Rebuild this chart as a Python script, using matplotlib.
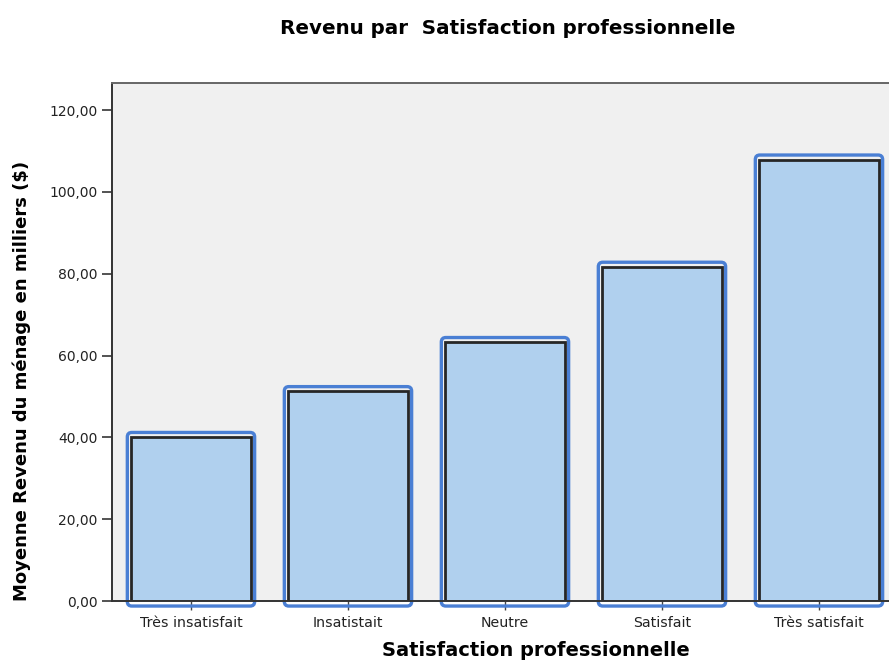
import matplotlib
matplotlib.use("Agg")
import matplotlib.pyplot as plt
from matplotlib.patches import FancyBboxPatch
from matplotlib.ticker import FuncFormatter

categories = ["Très insatisfait", "Insatistait", "Neutre", "Satisfait", "Très satisfait"]
mean_income = [40.1, 51.3, 63.3, 81.7, 107.9]
y_ticks = [0, 20, 40, 60, 80, 100, 120]

BG = "#f0f0f0"
FILL = "#b0d0ee"
RIM = "#4a7fd4"
W = 889
H = 662

fig = plt.figure(figsize=(W / 100, H / 100), dpi=100)
ax = fig.add_axes([0.126, 0.0921, 0.874, 0.7825])
ax.set_facecolor(BG)

x = list(range(len(categories)))
ax.set_xlim(-0.503, 4.446)
ax.set_ylim(0, 126.6)

# inner bars with a dark frame
ax.bar(x, mean_income, width=0.76, color=FILL, edgecolor="#262626", linewidth=2.0, zorder=3)

# rounded blue outline around every bar, sized in pixels
fig.canvas.draw()
px_x = ax.transData.transform((1, 0))[0] - ax.transData.transform((0, 0))[0]
px_y = ax.transData.transform((0, 1))[1] - ax.transData.transform((0, 0))[1]
pad_x = 4.0 / px_x
pad_top = 4.5 / px_y
pad_bot = 5.0 / px_y
radius = 4.5 / px_x
aspect = (1.0 / px_y) / (1.0 / px_x)
for xi, v in zip(x, mean_income):
    half = 0.76 / 2 + pad_x
    box = FancyBboxPatch((xi - half, -pad_bot), 2 * half, v + pad_top + pad_bot,
                         boxstyle=f"round,pad=0,rounding_size={radius}",
                         mutation_aspect=aspect, facecolor="none",
                         edgecolor=RIM, linewidth=2.4, zorder=2, clip_on=False)
    ax.add_patch(box)

ax.set_xticks(x)
ax.set_xticklabels(categories, fontfamily="DejaVu Sans", fontsize=10.2, color="#222222")
ax.set_yticks(y_ticks)
ax.yaxis.set_major_formatter(FuncFormatter(lambda v, p: f"{v:.2f}".replace(".", ",")))
for lab in ax.get_yticklabels():
    lab.set_fontfamily("DejaVu Sans")
    lab.set_fontsize(10)
    lab.set_color("#222222")

ax.tick_params(axis="y", direction="out", length=7.5, width=1.3, color="#444444", pad=3)
ax.tick_params(axis="x", direction="out", length=6.5, width=1.0, color="#444444", pad=4)

for side in ["left", "bottom", "top"]:
    ax.spines[side].set_color("#333333")
    ax.spines[side].set_linewidth(1.4)
ax.spines["top"].set_color("#666666")
ax.spines["right"].set_visible(False)
ax.spines["bottom"].set_zorder(5)

fig.text(536 / W, 1 - 650 / H, "Satisfaction professionnelle", ha="center", va="center",
         fontfamily="DejaVu Sans", fontweight="bold", fontsize=14)
fig.text(22 / W, 1 - 381 / H, "Moyenne Revenu du ménage en milliers ($)", ha="center",
         va="center", rotation=90, fontfamily="DejaVu Sans", fontweight="bold", fontsize=13)
fig.text(508 / W, 1 - 28 / H, "Revenu par  Satisfaction professionnelle", ha="center",
         va="center", fontfamily="DejaVu Sans", fontweight="bold", fontsize=14.3)

fig.savefig("out.png", dpi=100, facecolor="white")
